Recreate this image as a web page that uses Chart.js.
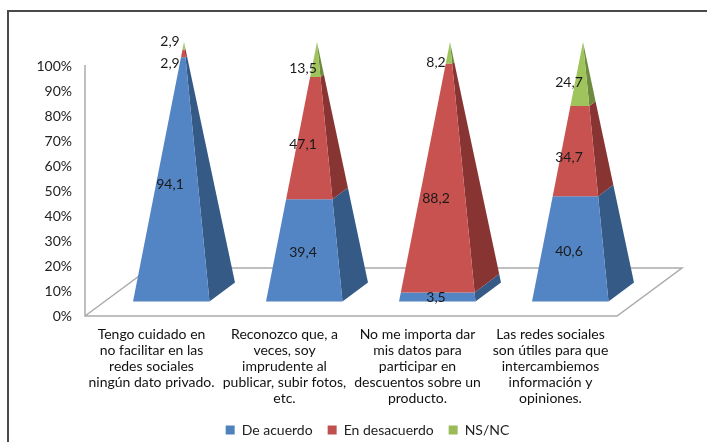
<!DOCTYPE html>
<html><head><meta charset="utf-8">
<style>html,body{margin:0;padding:0;background:#fff}#wrap{position:relative;width:707px;height:442px;overflow:hidden}
#frame{position:absolute;left:7px;top:10px;width:800px;height:600px;border:2px solid #4a4a4a;box-sizing:border-box}
canvas{position:absolute;left:0;top:0}</style>
<script src="https://cdn.jsdelivr.net/npm/chart.js@4"></script>
</head><body><div id="wrap"><div id="frame"></div><canvas id="c" width="707" height="442"></canvas></div>
<script>
const categories = [
  ["Tengo cuidado en","no facilitar en las","redes sociales","ningún dato privado."],
  ["Reconozco que, a","veces, soy","imprudente al","publicar, subir fotos,","etc."],
  ["No me importa dar","mis datos para","participar en","descuentos sobre un","producto."],
  ["Las redes sociales","son útiles para que","intercambiemos","información y","opiniones."]
];
const deAcuerdo = [94.1, 39.4, 3.5, 40.6];
const enDesacuerdo = [2.9, 47.1, 88.2, 34.7];
const nsNc = [2.9, 13.5, 8.2, 24.7];
const seriesNames = ["De acuerdo","En desacuerdo","NS/NC"];
const FONT = 'Lato';
const faces = [
  {front:"#5384c4", side:"#355a86"},
  {front:"#c85250", side:"#873432"},
  {front:"#a0c45c", side:"#6d8a3e"}
];
const floorDepth = {x:65, y:-48};
const pyramidDepth = {x:25.5, y:-19};
const legendShift = 59;
// hand-moved data labels of the reference: [dataset, index, dx, dy]
const labelMoves = [[2,0,0,-14.5],[1,2,0,15]];

const pyramids = {
  id:"pyramids",
  afterLayout(chart){
    chart.legend.left += legendShift;
    chart.legend.right += legendShift;
  },
  beforeDatasetsDraw(chart){
    const ctx = chart.ctx, a = chart.chartArea;
    const h = a.bottom - a.top;
    ctx.save();
    ctx.strokeStyle = "#ababab"; ctx.lineWidth = 1.5;
    ctx.beginPath();
    ctx.moveTo(a.left, a.top - 1); ctx.lineTo(a.left, a.bottom);
    ctx.lineTo(a.right, a.bottom);
    ctx.lineTo(a.right + floorDepth.x, a.bottom + floorDepth.y);
    ctx.lineTo(a.left + floorDepth.x, a.bottom + floorDepth.y);
    ctx.lineTo(a.left, a.bottom);
    ctx.stroke();
    const ddx = pyramidDepth.x, ddy = pyramidDepth.y;
    chart.data.datasets.forEach((ds, di) => {
      chart.getDatasetMeta(di).data.forEach(el => {
        const hw = el.width / 2;
        const cx = el.x + floorDepth.x / 2, cy0 = floorDepth.y / 2;
        const pt = (px, sx, sy) => {
          const f = (a.bottom - px) / h, k = 1 - f;
          return [cx + k * sx, px + cy0 + k * sy];
        };
        const fl = -hw - ddx / 2, fr = hw - ddx / 2, br = hw + ddx / 2;
        const s = -ddy / 2;
        const poly = (pts, col) => {
          ctx.fillStyle = col; ctx.beginPath();
          pts.forEach((p, i) => i ? ctx.lineTo(p[0], p[1]) : ctx.moveTo(p[0], p[1]));
          ctx.closePath(); ctx.fill();
        };
        const bot = el.base, top = el.y;
        poly([pt(bot,fr,s), pt(bot,br,-s), pt(top,br,-s), pt(top,fr,s)], faces[di].side);
        poly([pt(bot,fl,s), pt(bot,fr,s), pt(top,fr,s), pt(top,fl,s)], faces[di].front);
      });
    });
    ctx.restore();
    return false;
  },
  afterDraw(chart){
    const ctx = chart.ctx;
    ctx.save();
    ctx.font = "14px " + FONT; ctx.fillStyle = "#1a1a1a";
    ctx.textAlign = "center"; ctx.textBaseline = "middle";
    chart.data.datasets.forEach((ds, di) => {
      chart.getDatasetMeta(di).data.forEach((el, i) => {
        const mv = labelMoves.find(m => m[0] === di && m[1] === i) || [0,0,0,0];
        const y = (el.y + el.base) / 2 - 14 + mv[3];
        const x = el.x + 18.5 + mv[2];
        ctx.fillText(ds.data[i].toFixed(1).replace(".", ","), x, y);
      });
    });
    ctx.restore();
  }
};

new Chart(document.getElementById("c"), {
  type:"bar",
  data:{labels:categories, datasets:[
    {label:seriesNames[0], data:deAcuerdo, backgroundColor:"#4f81bd", stack:"s"},
    {label:seriesNames[1], data:enDesacuerdo, backgroundColor:"#c0504d", stack:"s"},
    {label:seriesNames[2], data:nsNc, backgroundColor:"#9bbb59", stack:"s"}
  ]},
  options:{
    responsive:false, animation:false, devicePixelRatio:1,
    layout:{padding:{left:0,right:90,top:66,bottom:-5}},
    datasets:{bar:{categoryPercentage:1,barPercentage:0.575}},
    scales:{
      x:{stacked:true, grid:{display:false,drawTicks:false}, border:{display:false},
         ticks:{color:"#111",font:{family:FONT,size:14,lineHeight:1.15},maxRotation:0,minRotation:0,autoSkip:false,padding:10},
         afterFit(s){s.height=92;}},
      y:{stacked:true, min:0,max:100, grid:{display:false,drawTicks:false}, border:{display:false},
         ticks:{stepSize:10,color:"#222",padding:13,font:{family:FONT,size:14},callback:v=>v+"%"},
         afterFit(s){s.width=85;}}
    },
    plugins:{
      tooltip:{enabled:false},
      legend:{position:"bottom",labels:{color:"#222",font:{family:FONT,size:14},boxWidth:9,boxHeight:9,padding:15}}
    }
  },
  plugins:[pyramids]
});
</script></body></html>
